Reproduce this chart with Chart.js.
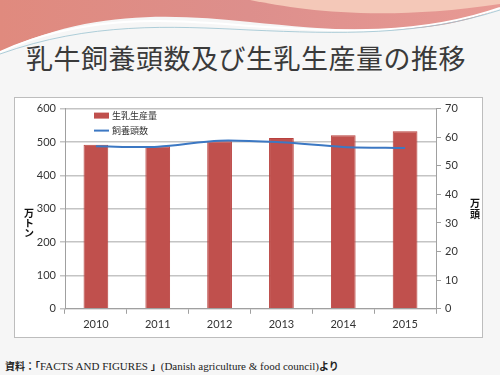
<!DOCTYPE html>
<html>
<head>
<meta charset="utf-8">
<script src="https://cdn.jsdelivr.net/npm/chart.js@4"></script>
<style>
  body { margin: 0; width: 500px; height: 375px; background: #f6f6f6; position: relative; overflow: hidden; }
  #wave { position: absolute; left: 0; top: 0; }
  #title { position: absolute; left: 26px; top: 38px; font-family: "Noto Sans CJK JP"; font-size: 27px; color: #3a3a3a; letter-spacing: 0.5px; white-space: nowrap; }
  #box { position: absolute; left: 14px; top: 97px; width: 469px; height: 241px; background: #fff; border: 1px solid #bdbdbd; box-sizing: border-box; }
  #source { position: absolute; left: 5px; top: 358px; font-family: "Liberation Serif", "Noto Sans CJK JP"; font-size: 11px; color: #222; white-space: nowrap; }
  #source b { font-family: "Noto Sans CJK JP"; font-size: 10px; }
</style>
</head>
<body>
<svg id="wave" width="500" height="60" viewBox="0 0 500 60">
  <defs>
    <linearGradient id="g1" x1="0" y1="0" x2="1" y2="0">
      <stop offset="0" stop-color="#e08a7e"/>
      <stop offset="0.5" stop-color="#dd8f8c"/>
      <stop offset="1" stop-color="#e89a94"/>
    </linearGradient>
  </defs>
  <path d="M0 0 H500 V8 C430 40 330 30 250 22 C170 14 90 10 0 52 Z" fill="url(#g1)"/>
  <path d="M250 0 C300 10 380 22 500 4 V0 Z" fill="#f4c8b8"/>
  <path d="M0 52 C90 12 170 20 250 26 C340 32 420 36 500 8" fill="none" stroke="#ffffff" stroke-width="2"/>
  <path d="M0 54 C90 22 170 26 250 30 C340 34 420 36 500 10" fill="none" stroke="#9bc3d0" stroke-width="0.8"/>
</svg>
<div id="title">乳牛飼養頭数及び生乳生産量の推移</div>
<div id="box"><canvas id="milkChart" width="469" height="241"></canvas></div>
<div id="source"><b>資料：「</b>FACTS AND FIGURES <b>」</b>(Danish agriculture &amp; food council)<b>より</b></div>
<script>
var years = ["2010", "2011", "2012", "2013", "2014", "2015"];
var milkOutput = [492, 487, 502, 512, 520, 532];   // 万トン
var cowCount = [56.8, 56.7, 58.8, 58.2, 56.6, 56.2]; // 万頭
var leftTicks = [0, 100, 200, 300, 400, 500, 600];
var rightTicks = [0, 10, 20, 30, 40, 50, 60, 70];

var barColor = '#c0504d';
var lineColor = '#3c78c3';

// legend drawn inside the plot area, top-left
var innerLegend = {
  id: 'innerLegend',
  afterDraw: function(chart) {
    var ctx = chart.ctx;
    var bars = chart.data.datasets[1], line = chart.data.datasets[0];
    var x = chart.chartArea.left + 29;
    var y = chart.chartArea.top + 7;
    ctx.save();
    ctx.font = '9px "Noto Sans CJK JP"';
    ctx.textBaseline = 'middle';
    ctx.fillStyle = bars.backgroundColor;
    ctx.fillRect(x, y - 3, 15, 6);
    ctx.fillStyle = '#333';
    ctx.fillText(bars.label, x + 18, y);
    y += 15;
    ctx.strokeStyle = line.borderColor;
    ctx.lineWidth = 2;
    ctx.beginPath();
    ctx.moveTo(x, y);
    ctx.lineTo(x + 15, y);
    ctx.stroke();
    ctx.fillText(line.label, x + 18, y);
    ctx.restore();
  }
};

// stacked vertical axis titles
var axisTitles = {
  id: 'axisTitles',
  afterDraw: function(chart) {
    var ctx = chart.ctx;
    var mid = (chart.chartArea.top + chart.chartArea.bottom) / 2;
    ctx.save();
    ctx.font = 'bold 10px "Noto Sans CJK JP"';
    ctx.fillStyle = '#111';
    ctx.textAlign = 'center';
    ctx.textBaseline = 'middle';
    ['万', 'ト', 'ン'].forEach(function(c, i) { ctx.fillText(c, 14, mid + 5 + i * 10); });
    ['万', '頭'].forEach(function(c, i) { ctx.fillText(c, 460, mid - 5 + i * 11); });
    ctx.restore();
  }
};

Chart.defaults.font.family = "Lato";
Chart.defaults.font.size = 11;
Chart.defaults.color = "#333";

var chart = new Chart(document.getElementById("milkChart"), {
  data: {
    labels: years,
    datasets: [
      {
        type: 'line',
        label: '飼養頭数',
        data: cowCount,
        yAxisID: 'y1',
        borderColor: lineColor,
        borderWidth: 2,
        pointRadius: 0,
        tension: 0.3,
        order: 0
      },
      {
        type: 'bar',
        label: '生乳生産量',
        data: milkOutput,
        yAxisID: 'y',
        backgroundColor: barColor,
        borderColor: '#b8403d',
        borderWidth: 1,
        barPercentage: 0.4,
        categoryPercentage: 1,
        order: 1
      }
    ]
  },
  options: {
    responsive: false,
    animation: false,
    layout: { padding: { left: 0, right: 0, top: 6, bottom: 4 } },
    plugins: {
      legend: { display: false },
      tooltip: { enabled: false }
    },
    scales: {
      x: {
        offset: true,
        grid: { display: true, drawOnChartArea: false, offset: true, color: '#a0a0a0', tickLength: 5 },
        border: { color: '#a0a0a0' },
        ticks: { font: { size: 11 }, padding: 4 }
      },
      y: {
        position: 'left',
        min: 0, max: 600,
        afterBuildTicks: function(axis) { axis.ticks = leftTicks.map(function(v) { return { value: v }; }); },
        grid: { color: '#c4c4c4', lineWidth: 1.5, tickLength: 5 },
        border: { color: '#a0a0a0' },
        ticks: { padding: 4 },
        afterFit: function(axis) { axis.width = 50; }
      },
      y1: {
        position: 'right',
        min: 0, max: 70,
        afterBuildTicks: function(axis) { axis.ticks = rightTicks.map(function(v) { return { value: v }; }); },
        grid: { drawOnChartArea: false, color: '#a0a0a0', tickLength: 5 },
        border: { color: '#a0a0a0' },
        ticks: { padding: 4 },
        afterFit: function(axis) { axis.width = 48; }
      }
    }
  },
  plugins: [innerLegend, axisTitles]
});
</script>
</body>
</html>
